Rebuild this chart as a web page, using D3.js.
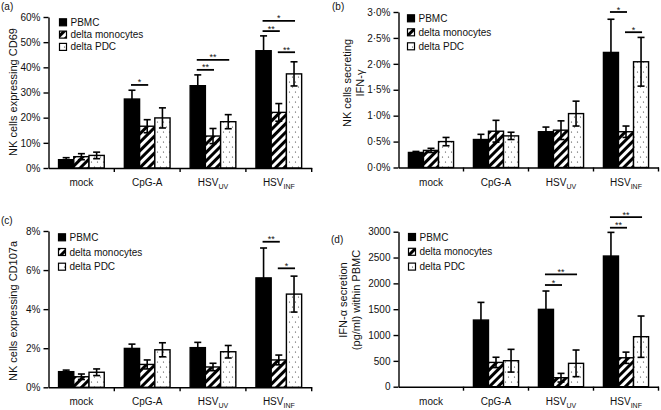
<!DOCTYPE html>
<html><head><meta charset="utf-8">
<script src="https://cdn.jsdelivr.net/npm/d3@7"></script>
<style>body{margin:0;background:#fff;} text{font-family:"Liberation Sans",Arial,Helvetica,sans-serif;}</style>
</head><body>
<script>
// ---------- DATA ----------
const categoryMain = ["mock", "CpG-A", "HSV", "HSV"];
const categorySub  = ["", "", "UV", "INF"];
const seriesNames  = ["PBMC", "delta monocytes", "delta PDC"];

// (a) NK cells expressing CD69 (%)
const cd69PBMC    = [3.3, 27.4, 32.7, 46.6];
const cd69PBMCErr = [0.8, 3.5, 4.3, 5.9];
const cd69Mono    = [4.5, 16.6, 12.7, 22.1];
const cd69MonoErr = [1.2, 2.6, 3.0, 3.5];
const cd69PDC     = [5.0, 19.9, 18.4, 37.4];
const cd69PDCErr  = [1.3, 4.0, 2.8, 4.8];
const cd69Ticks   = [0, 10, 20, 30, 40, 50, 60];
const cd69Sig     = [[1,0,1,33,"*"],[2,0,1,39,"**"],[2,0,2,43,"**"],[3,0,1,54.4,"**"],[3,0,2,58.5,"*"],[3,1,2,46,"**"]];

// (b) NK cells secreting IFN-γ (%)
const ifngPBMC    = [0.29, 0.54, 0.69, 2.22];
const ifngPBMCErr = [0.02, 0.10, 0.09, 0.64];
const ifngMono    = [0.33, 0.70, 0.72, 0.69];
const ifngMonoErr = [0.04, 0.21, 0.18, 0.11];
const ifngPDC     = [0.50, 0.61, 1.04, 2.04];
const ifngPDCErr  = [0.08, 0.07, 0.24, 0.47];
const ifngTicks   = [0, 0.5, 1.0, 1.5, 2.0, 2.5, 3.0];
const ifngSig     = [[3,0,1,3.0,"*"],[3,1,2,2.61,"*"]];

// (c) NK cells expressing CD107a (%)
const cd107PBMC    = [0.80, 1.99, 2.03, 5.60];
const cd107PBMCErr = [0.08, 0.22, 0.27, 1.53];
const cd107Mono    = [0.54, 1.17, 1.04, 1.40];
const cd107MonoErr = [0.14, 0.23, 0.19, 0.25];
const cd107PDC     = [0.77, 1.92, 1.82, 4.77];
const cd107PDCErr  = [0.17, 0.36, 0.32, 0.92];
const cd107Ticks   = [0, 2, 4, 6, 8];
const cd107Sig     = [[3,0,1,7.45,"**"],[3,1,2,6.09,"*"]];

// (d) IFN-α secretion (pg/ml)
const ifnaPBMC    = [0, 1290, 1497, 2529];
const ifnaPBMCErr = [0, 342, 355, 458];
const ifnaMono    = [0, 470, 174, 560];
const ifnaMonoErr = [0, 100, 84, 109];
const ifnaPDC     = [0, 503, 452, 968];
const ifnaPDCErr  = [0, 220, 258, 400];
const ifnaTicks   = [0, 500, 1000, 1500, 2000, 2500, 3000];
const ifnaSig     = [[2,0,1,1968,"*"],[2,0,2,2175,"**"],[3,0,1,3077,"**"],[3,0,2,3284,"**"]];

// ---------- DRAW ----------
const svg = d3.select("body").append("svg").attr("width", 661).attr("height", 410);
const defs = svg.append("defs");
const hp = defs.append("pattern").attr("id","hatch").attr("patternUnits","userSpaceOnUse")
  .attr("width",6).attr("height",6).attr("patternTransform","rotate(45)");
hp.append("rect").attr("width",6).attr("height",6).attr("fill","#fff");
hp.append("rect").attr("width",3).attr("height",6).attr("fill","#000");
const dp = defs.append("pattern").attr("id","dots").attr("patternUnits","userSpaceOnUse")
  .attr("width",6).attr("height",10);
dp.append("rect").attr("width",6).attr("height",10).attr("fill","#fff");
dp.append("circle").attr("cx",1.5).attr("cy",2).attr("r",0.6).attr("fill","#333");
dp.append("circle").attr("cx",4.5).attr("cy",7).attr("r",0.6).attr("fill","#333");
const fills = ["#000", "url(#hatch)", "url(#dots)"];

function panel(cfg) {
  const g = svg.append("g");
  const x0 = d3.scaleBand().domain(d3.range(categoryMain.length)).range([cfg.left, cfg.right]);
  const x1 = d3.scaleBand().domain(d3.range(seriesNames.length)).range([0, x0.bandwidth()]).paddingOuter(0.66);
  const y = d3.scaleLinear().domain([0, cfg.ticks[cfg.ticks.length-1]]).range([cfg.bottom, cfg.top]);
  const center = (c, s) => x0(c) + x1(s) + x1.bandwidth()/2;

  // bars
  cfg.values.forEach((vals, s) => {
    g.selectAll(null).data(vals).enter().append("rect")
      .attr("x", (d, c) => x0(c) + x1(s))
      .attr("width", x1.bandwidth())
      .attr("y", d => y(d))
      .attr("height", d => y(0) - y(d))
      .attr("fill", fills[s]).attr("stroke", "#000").attr("stroke-width", 1.4);
  });

  // y axis
  const ya = g.append("g").attr("transform", `translate(${cfg.left},0)`)
    .call(d3.axisLeft(y).tickValues(cfg.ticks).tickSize(5).tickSizeOuter(0).tickPadding(3).tickFormat(cfg.fmt));
  ya.selectAll("path,line").attr("stroke","#000").attr("stroke-width",1.4);
  ya.selectAll("text").attr("font-size",10).attr("fill","#111").style("font-family","Liberation Sans, Arial, sans-serif");

  // x axis
  const xa = g.append("g").attr("transform", `translate(0,${cfg.bottom})`)
    .call(d3.axisBottom(x0).tickSize(0).tickSizeOuter(0).tickFormat(""));
  xa.select("path").attr("stroke","#000").attr("stroke-width",1.4);
  const bounds = d3.range(1, categoryMain.length).map(c => x0(c)).concat([cfg.right]);
  g.selectAll(null).data(bounds).enter().append("line")
    .attr("x1", d => d).attr("x2", d => d).attr("y1", cfg.bottom).attr("y2", cfg.bottom + 4)
    .attr("stroke","#000").attr("stroke-width",1.4);
  const lab = g.selectAll(null).data(categoryMain).enter().append("text")
    .attr("x", (d, c) => x0(c) + x0.bandwidth()/2).attr("y", cfg.bottom + 18)
    .attr("text-anchor","middle").attr("font-size",10).attr("fill","#111");
  lab.append("tspan").text(d => d);
  lab.append("tspan").attr("font-size",7).attr("dy",3).text((d, c) => categorySub[c]);

  // error bars
  cfg.values.forEach((vals, s) => {
    vals.forEach((v, c) => {
      const e = cfg.errs[s][c];
      if (!e) return;
      const cx = center(c, s);
      g.append("line").attr("x1",cx).attr("x2",cx).attr("y1",y(v - e)).attr("y2",y(v + e))
        .attr("stroke","#000").attr("stroke-width",1.6);
      [v - e, v + e].forEach(t => g.append("line").attr("x1",cx-3.5).attr("x2",cx+3.5)
        .attr("y1",y(t)).attr("y2",y(t)).attr("stroke","#000").attr("stroke-width",1.6));
    });
  });

  // significance
  cfg.sig.forEach(([c, a, b, lvl, txt]) => {
    const xa1 = center(c, a) - 1, xb = center(c, b) + 1;
    g.append("line").attr("x1",xa1).attr("x2",xb).attr("y1",y(lvl)).attr("y2",y(lvl))
      .attr("stroke","#000").attr("stroke-width",1.8);
    g.append("text").attr("x",(xa1+xb)/2).attr("y",y(lvl)+0.5).attr("text-anchor","middle")
      .attr("font-size",9).attr("fill","#111").text(txt);
  });

  // y title
  cfg.title.forEach((t, i) => {
    g.append("text").attr("transform", `translate(${cfg.titleX[i]},${cfg.titleY}) rotate(-90)`)
      .attr("text-anchor","middle").attr("dominant-baseline","central")
      .attr("font-size",11).attr("fill","#111").text(t);
  });

  // legend
  seriesNames.forEach((n, s) => {
    const ly = cfg.legY + s * cfg.legDy;
    g.append("rect").attr("x",cfg.legX).attr("y",ly-3.5).attr("width",7).attr("height",7)
      .attr("fill",fills[s]).attr("stroke","#000").attr("stroke-width",1.2);
    g.append("text").attr("x",cfg.legX+11).attr("y",ly).attr("dominant-baseline","central")
      .attr("font-size",10).attr("fill","#111").text(n);
  });

  // panel label
  g.append("text").attr("x",cfg.labX).attr("y",cfg.labY).attr("font-size",10).attr("fill","#111").text(cfg.label);
}

const pct = d => d + "%";
const dotPct = d => d.toFixed(1).replace(".", "\u00B7") + "%";

panel({label:"(a)", labX:1, labY:10, left:48.5, right:311.7, top:17, bottom:168,
  ticks:cd69Ticks, fmt:pct, values:[cd69PBMC, cd69Mono, cd69PDC], errs:[cd69PBMCErr, cd69MonoErr, cd69PDCErr],
  sig:cd69Sig, title:["NK cells expressing CD69"], titleX:[12.5], titleY:92,
  legX:59.5, legY:22.3, legDy:12.3});
panel({label:"(b)", labX:332, labY:10, left:398.5, right:658.5, top:12, bottom:167.5,
  ticks:ifngTicks, fmt:dotPct, values:[ifngPBMC, ifngMono, ifngPDC], errs:[ifngPBMCErr, ifngMonoErr, ifngPDCErr],
  sig:ifngSig, title:["NK cells secreting", "IFN-\u03B3"], titleX:[346.5, 360], titleY:83,
  legX:407.5, legY:18.3, legDy:14});
panel({label:"(c)", labX:1, labY:224, left:48.5, right:311.7, top:231, bottom:387.3,
  ticks:cd107Ticks, fmt:pct, values:[cd107PBMC, cd107Mono, cd107PDC], errs:[cd107PBMCErr, cd107MonoErr, cd107PDCErr],
  sig:cd107Sig, title:["NK cells expressing CD107a"], titleX:[13], titleY:311,
  legX:58.5, legY:237.3, legDy:14.7});
panel({label:"(d)", labX:331, labY:243, left:398.5, right:658.5, top:231.7, bottom:386.7,
  ticks:ifnaTicks, fmt:d => d, values:[ifnaPBMC, ifnaMono, ifnaPDC], errs:[ifnaPBMCErr, ifnaMonoErr, ifnaPDCErr],
  sig:ifnaSig, title:["IFN-\u03B1 secretion", "(pg/ml) within PBMC"], titleX:[343, 356], titleY:300,
  legX:408.5, legY:237, legDy:14.8});
</script>
</body></html>
